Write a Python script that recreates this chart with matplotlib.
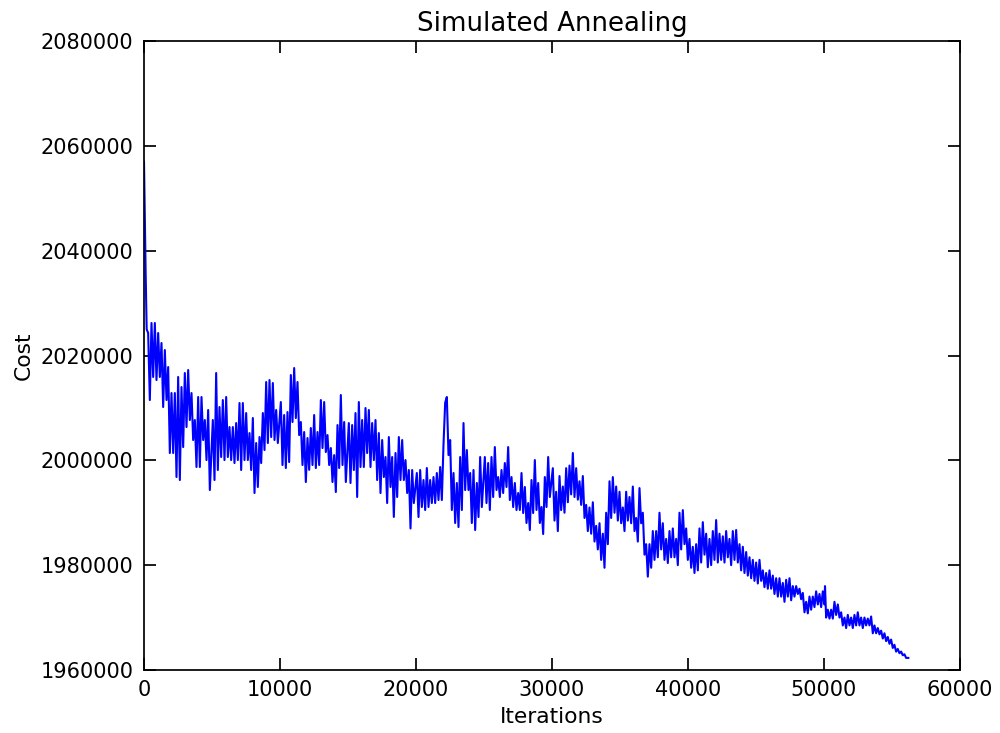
import matplotlib
matplotlib.use("Agg")
import matplotlib.pyplot as plt
from matplotlib.ticker import ScalarFormatter

# ---- data (iteration, cost), segment by segment ----
it_start = [0, 50, 74, 120, 196]
cost_start = [2057000, 2048000, 2044000, 2036000, 2025000]

it_a = [306, 429, 551, 674, 797, 919, 1042, 1164, 1287, 1409, 1532, 1655, 1777, 1900, 2022, 2145,
        2267, 2390, 2512, 2635, 2757, 2880, 3002, 3125, 3248, 3370, 3493, 3615, 3738, 3860, 3983, 4105,
        4228, 4350, 4473, 4596, 4718, 4841]
cost_a = [2024290, 2011500, 2026200, 2015900, 2026200, 2015320, 2024290, 2015900, 2022380, 2010170,
          2021040, 2011500, 2017800, 2001390, 2012840, 2001390, 2012840, 1996810, 2015900, 1996240,
          2013980, 2002530, 2016660, 2006350, 2017230, 2007690, 2012840, 2003870, 2007690, 1998720,
          2012080, 1998720, 2012080, 2003870, 2007690, 2000050, 2009600, 1994330]

it_b = [5061, 5184, 5306, 5429, 5551, 5674, 5797, 5919, 6042, 6164, 6287, 6409, 6532, 6654, 6777, 6900,
        7022, 7145, 7267, 7390, 7512, 7635, 7758, 7880, 8003, 8125, 8248, 8370, 8493, 8615, 8738, 8860,
        8983, 9106, 9228, 9351, 9473, 9596, 9718, 9841]
cost_b = [2007690, 1996240, 2016660, 1998150, 2010170, 2000630, 2011500, 2000050, 2012080, 2000630,
          2006350, 2000050, 2006350, 1999480, 2007110, 2000050, 2010930, 1998150, 2010930, 2000050,
          2009020, 2000050, 2005200, 1998150, 2008070, 1993760, 2003300, 1994910, 2004440, 1999480,
          2009020, 2001960, 2014940, 2003300, 2015320, 2004440, 2014750, 2003870, 2009600, 2003300]

it_c = [10061, 10184, 10306, 10429, 10551, 10674, 10797, 10919, 11042, 11164, 11287, 11409, 11532,
        11654, 11777, 11900, 12022, 12145, 12267, 12390, 12512, 12635, 12758, 12880, 13003, 13125,
        13248, 13370, 13493, 13615, 13738, 13860, 13983, 14105, 14228, 14350, 14473, 14596, 14718, 14841]
cost_c = [2011120, 1999100, 2008640, 1998530, 2009210, 1999670, 2016270, 2007310, 2017610, 2008070,
          2014940, 2004820, 2007310, 1999100, 2005400, 1995860, 2004250, 1998190, 2006160, 1999100,
          2008640, 1998530, 2005400, 1999100, 2011500, 2002340, 2011120, 2001580, 2004820, 1999100,
          2002340, 1995860, 2000990, 1993950, 2006730, 1998530, 2012460, 1999100, 2007310, 1995860]

it_d = [15061, 15184, 15306, 15429, 15551, 15674, 15797, 15919, 16042, 16164, 16287, 16409, 16532,
        16654, 16777, 16900, 17022, 17145, 17267, 17390, 17512, 17635, 17758, 17880, 18003, 18125,
        18248, 18370, 18493, 18615, 18738, 18860, 18983, 19106, 19228, 19351, 19473, 19596, 19718, 19841]
cost_d = [2007110, 1995670, 2006730, 1998150, 2009020, 1993000, 2011120, 1998720, 2007690, 1998720,
          2009980, 2001390, 2009600, 1998720, 2007110, 2000050, 2007690, 1996240, 2005200, 1993760,
          2003870, 1996810, 2000630, 1991850, 2004440, 1994910, 2000630, 1989200, 2001390, 1993000,
          2004440, 1996240, 2003870, 1996240, 2000050, 1993760, 1998150, 1987000, 1998150, 1991850]

it_e = [20061, 20184, 20306, 20429, 20551, 20674, 20797, 20919, 21042, 21164, 21287, 21409, 21532,
        21654, 21777, 21900, 22022, 22145, 22267, 22390, 22512, 22635, 22758, 22880, 23003, 23125,
        23248, 23370, 23493, 23615, 23738, 23860, 23983, 24105, 24228, 24350, 24473, 24596, 24718, 24841]
cost_e = [1997580, 1989180, 1998150, 1991090, 1996240, 1990520, 1998530, 1991090, 1996240, 1991850,
          1996810, 1991850, 1997580, 1992420, 1998720, 1992420, 2003000, 2011000, 2012080, 2001000,
          2003870, 1990520, 1997580, 1988040, 1995670, 1987270, 2000630, 1990520, 2007110, 1994330,
          2001960, 1994330, 1997580, 1988040, 1998150, 1986700, 1995670, 1989180, 2000630, 1991090]

it_f = [25061, 25184, 25306, 25429, 25551, 25674, 25797, 25919, 26042, 26164, 26287, 26409, 26532,
        26654, 26777, 26900, 27022, 27145, 27267, 27390, 27512, 27635, 27758, 27880, 28003, 28125,
        28248, 28370, 28493, 28615, 28738, 28860, 28983, 29106, 29228, 29351, 29473, 29596, 29718, 29841]
cost_f = [2000630, 1991850, 1999480, 1990520, 2000630, 1993000, 2002530, 1994330, 1996810, 1993000,
          1998150, 1993760, 1999480, 1994910, 2002530, 1992420, 1996810, 1991090, 1995670, 1990520,
          1993760, 1990520, 1997580, 1989940, 1994910, 1988040, 1991850, 1986700, 1996240, 1989940,
          2000050, 1990520, 1995670, 1988040, 1991090, 1985930, 1996810, 1991090, 2000630, 1993000]

it_g = [30061, 30184, 30306, 30429, 30551, 30674, 30797, 30919, 31042, 31164, 31287, 31409, 31532,
        31654, 31777, 31900, 32022, 32145, 32267, 32390, 32512, 32635, 32757, 32880, 33002, 33125,
        33248, 33370, 33493, 33615, 33738, 33860, 33983, 34105, 34228, 34350, 34473, 34596, 34718,
        34841, 34963, 35086, 35208, 35331, 35453, 35576, 35698, 35821, 35943, 36066, 36188, 36311]
cost_g = [1998500, 1988500, 1994000, 1986500, 1997000, 1990500, 1995000, 1990000, 1998500, 1992000,
          1999000, 1993500, 2001400, 1993000, 1998500, 1992500, 1996000, 1991500, 1997000, 1989000,
          1991500, 1986500, 1991000, 1986000, 1992000, 1984500, 1987500, 1983000, 1988000, 1981000,
          1986000, 1979500, 1990000, 1984000, 1996000, 1989000, 1996800, 1990000, 1995000, 1988500,
          1994000, 1988000, 1991000, 1986500, 1994000, 1988500, 1993000, 1988000, 1995000, 1986500,
          1989000, 1984500]

it_h = [36433, 36556, 36678, 36801, 36923, 37046, 37168, 37291, 37413, 37536, 37658, 37781, 37903,
        38026, 38148, 38271, 38393, 38516, 38638, 38761, 38884, 39006, 39129, 39251, 39374, 39497,
        39619, 39742, 39864, 39987, 40109, 40232, 40354, 40477, 40599, 40722, 40844, 40967, 41089,
        41212, 41334, 41457, 41580, 41702, 41825, 41947, 42070, 42192, 42315, 42437, 42560, 42683,
        42805, 42928, 43050, 43173, 43295, 43418, 43540, 43663, 43786, 43908, 44031, 44153, 44276,
        44398, 44521, 44643, 44766, 44889, 45011, 45134, 45256, 45379, 45501, 45624, 45746, 45869,
        45991, 46114, 46237, 46359, 46482, 46605]
cost_h = [1994700, 1988000, 1990000, 1982000, 1984000, 1977800, 1984000, 1979500, 1986500, 1981000,
          1986500, 1981500, 1990000, 1983000, 1988000, 1981000, 1985000, 1980400, 1986500, 1981500,
          1987000, 1981500, 1985000, 1980000, 1990000, 1983000, 1990500, 1984000, 1987000, 1981000,
          1985000, 1979500, 1983500, 1978500, 1984000, 1979000, 1987000, 1980500, 1988200, 1982000,
          1986000, 1979600, 1985000, 1980000, 1986500, 1981000, 1988600, 1980500, 1986000, 1981000,
          1985500, 1980500, 1986500, 1981500, 1985000, 1980000, 1986500, 1981000, 1986700, 1980500,
          1984000, 1979000, 1983500, 1978500, 1982500, 1978000, 1981500, 1977500, 1981000, 1977000,
          1980500, 1976500, 1981000, 1977000, 1979000, 1975800, 1978500, 1975500, 1979000, 1975500,
          1978000, 1974500, 1977500, 1974000]

it_i = [46727, 46850, 46972, 47095, 47217, 47340, 47462, 47585, 47707, 47830, 47952, 48075, 48197,
        48320, 48442, 48565, 48687, 48810, 48932, 49055, 49177, 49300, 49422, 49545, 49667, 49790,
        49912, 50035, 50074, 50157, 50280, 50403, 50525, 50648, 50770, 50893, 51015, 51138, 51260,
        51383, 51505, 51628, 51750, 51873, 51995, 52118, 52240, 52363, 52485, 52608, 52730, 52853,
        52975, 53098, 53220, 53343, 53465, 53588, 53710, 53833, 53955, 54078, 54200, 54323, 54445,
        54568, 54690, 54813, 54935, 55058, 55180, 55303, 55425, 55548, 55670, 55793, 55915, 56038, 56201]
cost_i = [1977500, 1974000, 1976600, 1973000, 1977200, 1974000, 1977500, 1973300, 1976000, 1974000,
          1976000, 1974500, 1975500, 1973500, 1974700, 1971000, 1973000, 1970800, 1974000, 1971500,
          1974000, 1972000, 1975000, 1972500, 1974500, 1972000, 1975000, 1972500, 1976000, 1970000,
          1971500, 1969800, 1971500, 1969800, 1973000, 1970500, 1972500, 1970000, 1971000, 1968500,
          1970000, 1968000, 1970500, 1968500, 1970000, 1968000, 1970500, 1968500, 1971000, 1968500,
          1970000, 1968000, 1970000, 1968500, 1969800, 1968500, 1970200, 1967000, 1968500, 1967000,
          1968000, 1966800, 1967500, 1966000, 1967000, 1965500, 1966300, 1965000, 1965800, 1964200,
          1964800, 1963500, 1964000, 1963200, 1963500, 1962800, 1963000, 1962300, 1962300]

x_ticks = [0, 10000, 20000, 30000, 40000, 50000, 60000]
y_ticks = [1960000, 1980000, 2000000, 2020000, 2040000, 2060000, 2080000]

iterations = (it_start + it_a + it_b + it_c + it_d + it_e + it_f + it_g + it_h + it_i)
cost = (cost_start + cost_a + cost_b + cost_c + cost_d + cost_e + cost_f + cost_g + cost_h + cost_i)

plt.rcParams['font.family'] = ['DejaVu Sans']
fig = plt.figure(figsize=(8, 5.864), dpi=125, facecolor='white')
ax = fig.add_axes([0.144, 0.086, 0.816, 0.858])
ax.plot(iterations, cost, color='#0000ff', linewidth=1.2)
ax.set_xlim(0, 60000)
ax.set_ylim(1960000, 2080000)
ax.set_xticks(x_ticks)
ax.set_yticks(y_ticks)
fmt = ScalarFormatter(useOffset=False)
fmt.set_scientific(False)
ax.yaxis.set_major_formatter(fmt)
ax.tick_params(direction='in', top=True, right=True, length=7, width=1, labelsize=12, pad=6)
for s in ax.spines.values():
    s.set_linewidth(1.0)
ax.set_title('Simulated Annealing', fontsize=15)
ax.set_xlabel('Iterations', fontsize=12.5)
ax.set_ylabel('Cost', fontsize=12.5)
fig.savefig('out.png', dpi=125, facecolor='white')
